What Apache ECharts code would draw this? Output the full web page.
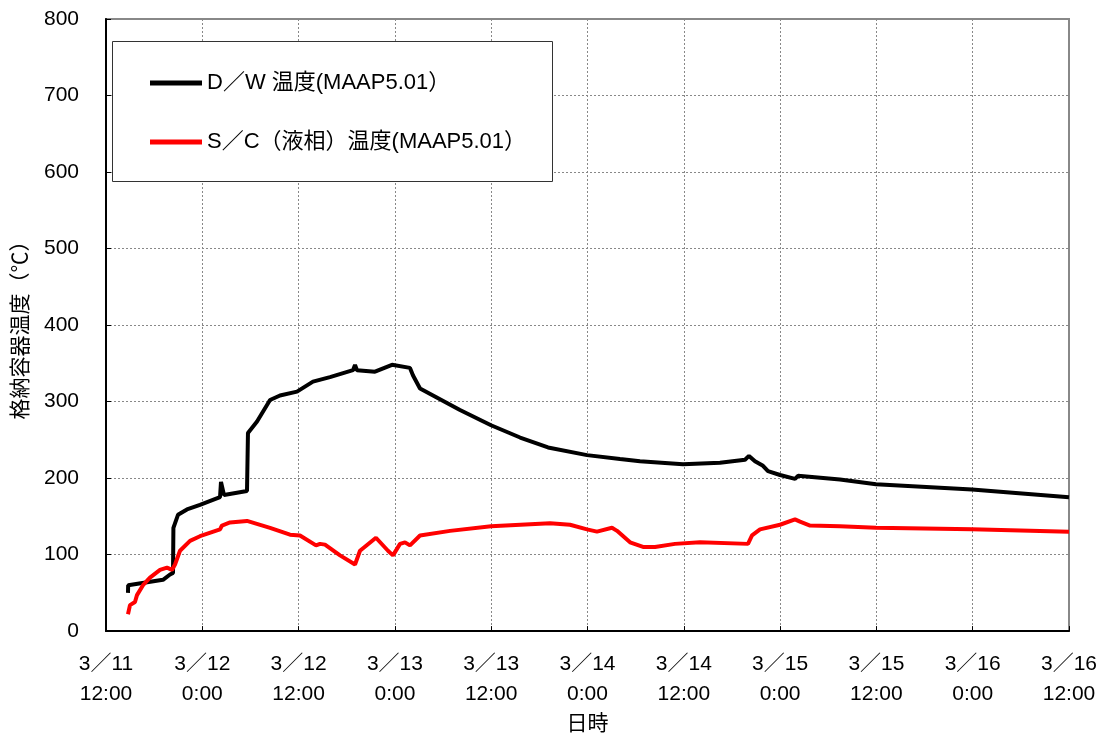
<!DOCTYPE html>
<html>
<head>
<meta charset="utf-8">
<script src="https://cdn.jsdelivr.net/npm/echarts@6/dist/echarts.min.js"></script>
<style>html,body{margin:0;padding:0;background:#fff}#c{width:1104px;height:740px}</style>
</head>
<body>
<div id="c"></div>
<script>
// hours since 3/11 12:00
const tickLabels = ['3／11\n12:00','3／12\n0:00','3／12\n12:00','3／13\n0:00','3／13\n12:00','3／14\n0:00','3／14\n12:00','3／15\n0:00','3／15\n12:00','3／16\n0:00','3／16\n12:00'];
const seriesNames = ['D／W 温度(MAAP5.01）', 'S／C（液相）温度(MAAP5.01）'];

const dwHours = [2.74,2.76,7.10,7.98,8.35,8.40,8.97,10.09,11.71,14.21,14.33,14.70,17.57,17.69,18.82,20.44,21.68,23.80,25.79,27.91,30.78,31.03,31.28,33.52,35.64,37.88,38.26,39.13,44.11,47.98,51.6,55.08,59.94,64.05,66.54,71.90,76.51,79.63,80.12,80.87,81.87,82.49,83.99,85.86,86.23,91.46,95.95,107.91,120];
const dwTemp  = [50,60,67,74,76,135,152,159,165,175,195,178,183,259,274,302,308,313,326,332,341,348,341,339,348,344,334,317,289,269,253,240,230,225,222,218,220,224,229,222,216,209,204,199,203,198,192,185,175];

const scHours = [2.74,2.99,3.61,3.86,4.61,5.48,6.73,7.60,8.22,8.60,9.22,10.47,11.71,14.21,14.45,15.45,17.57,20.44,22.93,24.17,26.17,26.67,27.29,29.16,31.03,31.65,33.64,35.14,35.76,36.64,37.26,37.88,39.13,42.87,47.98,55.33,57.82,59.94,61.18,63.05,63.68,65.30,66.92,68.41,70.90,74.02,80.0,80.50,81.50,83.99,85.86,86.48,87.73,91.46,95.95,107.91,120];
const scTemp  = [22,34,38,47,60,70,80,83,80,87,105,118,124,133,138,142,144,135,126,125,112,114,113,99,87,105,122,105,99,114,116,112,125,131,137,141,139,133,130,135,131,116,110,110,114,116,114,125,133,139,146,143,138,137,135,133,130];

const zip = (a, b) => a.map((h, i) => [h, b[i]]);
const FONT = '"Liberation Sans","Noto Sans CJK JP",sans-serif';

const chart = echarts.init(document.getElementById('c'), null, {renderer: 'canvas'});
chart.setOption({
  animation: false,
  backgroundColor: '#fff',
  grid: {left: 106, right: 35, top: 19, bottom: 103, containLabel: false,
    show: true, borderColor: '#888', borderWidth: 2, backgroundColor: 'transparent'},
  graphic: [{
    type: 'rect', left: 112, top: 41, z: 10,
    shape: {width: 440, height: 140},
    style: {fill: '#fff', stroke: '#333', lineWidth: 1}
  }],
  legend: {
    orient: 'vertical', left: 145, top: 66, z: 20,
    itemWidth: 52, itemHeight: 5, itemGap: 35, icon: 'rect',
    textStyle: {fontFamily: FONT, fontSize: 22, color: '#000', lineHeight: 24},
    data: seriesNames
  },
  xAxis: {
    type: 'value', min: 0, max: 120, interval: 12,
    name: '日時', nameLocation: 'middle', nameGap: 76,
    nameTextStyle: {fontFamily: FONT, fontSize: 21, color: '#000'},
    axisLine: {show: true, lineStyle: {color: '#000', width: 2}},
    axisTick: {show: true, inside: true, length: 5, lineStyle: {color: '#000'}},
    axisLabel: {fontFamily: FONT, fontSize: 21, color: '#000', margin: 18, lineHeight: 30,
      showMaxLabel: true, formatter: v => tickLabels[Math.round(v / 12)]},
    splitLine: {show: true, lineStyle: {color: '#888', type: [2, 2], width: 1}}
  },
  yAxis: {
    type: 'value', min: 0, max: 800, interval: 100,
    name: '格納容器温度（℃）', nameLocation: 'middle', nameGap: 74,
    nameTextStyle: {fontFamily: FONT, fontSize: 21, color: '#000'},
    axisLine: {show: true, lineStyle: {color: '#000', width: 2}},
    axisTick: {show: true, inside: true, length: 5, lineStyle: {color: '#000'}},
    axisLabel: {fontFamily: FONT, fontSize: 21, color: '#000', margin: 27},
    splitLine: {show: true, lineStyle: {color: '#888', type: [2, 2], width: 1}}
  },
  series: [
    {name: seriesNames[0], type: 'line', data: zip(dwHours, dwTemp), showSymbol: false, symbol: 'none',
      lineStyle: {color: '#000', width: 4}, itemStyle: {color: '#000'}},
    {name: seriesNames[1], type: 'line', data: zip(scHours, scTemp), showSymbol: false, symbol: 'none',
      lineStyle: {color: '#ff0000', width: 4}, itemStyle: {color: '#ff0000'}}
  ]
});
</script>
</body>
</html>
